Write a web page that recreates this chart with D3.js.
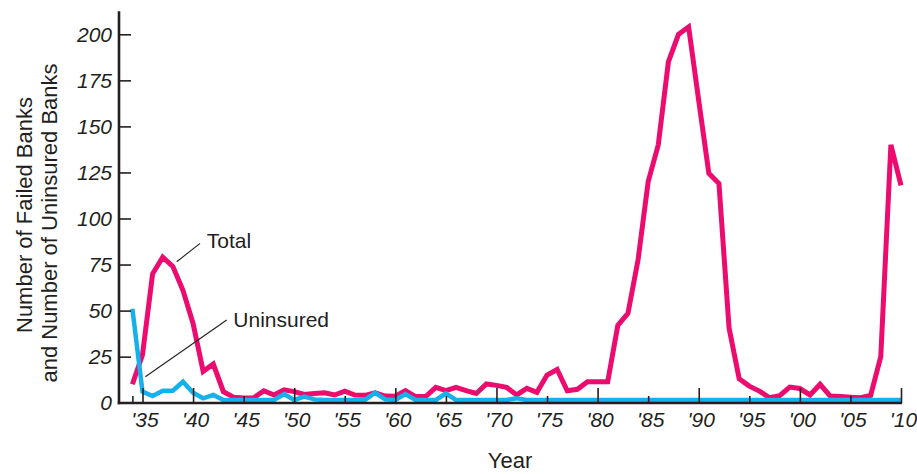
<!DOCTYPE html>
<html>
<head>
<meta charset="utf-8">
<script src="https://cdn.jsdelivr.net/npm/d3@7"></script>
<style>
  html, body { margin: 0; padding: 0; background: #ffffff; }
  svg { display: block; }
  text { font-family: "Liberation Sans", Arial, sans-serif; fill: #231f20; }
</style>
</head>
<body>
<svg id="chart" width="917" height="474"></svg>
<script>
// ---------- DATA ----------
const years = d3.range(1934, 2011);
const totalFailed = [
  10, 26, 70, 79, 74, 61, 43, 17, 21, 6,        // 1934-1943
  3, 2.5, 2.7, 6.5, 4.2, 7, 6, 4.5, 5, 5.4,     // 1944-1953
  4.2, 6.3, 4.2, 4, 5.4, 3.6, 3.5, 6.5, 3.3, 3.3, // 1954-1963
  8.3, 6.5, 8.3, 6.5, 5, 10.2, 9.4, 8.3, 4.2, 7.8, // 1964-1973
  5.6, 15, 18, 6.5, 7.3, 11.4, 11.4, 11.4, 42, 48.5, // 1974-1983
  77.5, 120, 140, 185, 200, 204, 164, 124.5, 119, 40.5, // 1984-1993
  13, 9, 6.3, 2.7, 3.8, 8.5, 7.7, 4.2, 10, 3.6, // 1994-2003
  3.3, 3, 2.7, 4, 25, 140, 118                  // 2004-2010
];
const uninsured = [
  51, 6, 3.6, 6.5, 6.5, 11.4, 5.4, 2.4, 4.2, 1.5, // 1934-1943
  1.5, 1.5, 1.5, 1.5, 1.5, 4.7, 1.5, 3.3, 1.8, 1.5, // 1944-1953
  1.5, 1.5, 1.5, 1.5, 5.4, 1.8, 1.5, 4.7, 1.5, 1.5, // 1954-1963
  1.5, 5, 1.5, 1.5, 1.5, 1.5, 1.5, 1.5, 2.4, 1.5,   // 1964-1973
  1.5, 1.5, 1.5, 1.5, 1.5, 1.5, 1.5, 1.5, 1.5, 1.5, // 1974-1983
  1.5, 1.5, 1.5, 1.5, 1.5, 1.5, 1.5, 1.5, 1.5, 1.5, // 1984-1993
  1.5, 1.5, 1.5, 1.5, 1.5, 1.5, 1.5, 1.5, 1.5, 1.5, // 1994-2003
  1.5, 1.5, 1.5, 1.5, 1.5, 1.5, 1.5                 // 2004-2010
];
const yTicks = [0, 25, 50, 75, 100, 125, 150, 175, 200];
const xLabelYears = [1935, 1940, 1945, 1950, 1955, 1960, 1965, 1970, 1975, 1980, 1985, 1990, 1995, 2000, 2005, 2010];
const xLabels = ["'35", "'40", "'45", "'50", "'55", "'60", "'65", "'70", "'75", "'80", "'85", "'90", "'95", "'00", "'05", "'10"];
const majorTickYears = [1935, 1940, 1950, 1960, 1970, 1980, 1990, 2000, 2010];
const minorTickYears = [1934, 1945, 1955, 1965, 1975, 1985, 1995, 2005];
const yTitleLines = ["Number of Failed Banks", "and Number of Uninsured Banks"];
const xTitle = "Year";
const seriesNames = ["Total", "Uninsured"];

// ---------- LAYOUT ----------
const ink = "#231f20";
const pink = "#ec0b6e";
const blue = "#14b1ea";
const axisX = 119;
const svg = d3.select("#chart");

const x = d3.scaleLinear().domain([1935, 2010]).range([142.5, 901]);
const y = d3.scaleLinear().domain([0, 200]).range([402.7, 34.3]);
const yTop = 212.5;

// ---------- LINES ----------
const line = d3.line().x((d, i) => x(years[i])).y(d => y(d));

svg.append("path").datum(totalFailed)
  .attr("d", line).attr("fill", "none")
  .attr("stroke", pink).attr("stroke-width", 5).attr("stroke-linejoin", "miter").attr("stroke-miterlimit", 3);

svg.append("path").datum(uninsured)
  .attr("d", line).attr("fill", "none")
  .attr("stroke", blue).attr("stroke-width", 4.5).attr("stroke-linejoin", "miter").attr("stroke-miterlimit", 3);

// ---------- AXES ----------
const xBase = y(0) + 0.3;
// minor ticks
svg.append("g").attr("transform", `translate(0,${xBase})`)
  .call(d3.axisBottom(x).tickValues(minorTickYears).tickSizeInner(-7).tickSizeOuter(0).tickFormat(""))
  .call(g => g.select(".domain").remove())
  .call(g => g.selectAll("line").attr("stroke", ink).attr("stroke-width", 1.6));
// major ticks
svg.append("g").attr("transform", `translate(0,${xBase})`)
  .call(d3.axisBottom(x).tickValues(majorTickYears).tickSizeInner(-15).tickSizeOuter(0).tickFormat(""))
  .call(g => g.select(".domain").remove())
  .call(g => g.selectAll("line").attr("stroke", ink).attr("stroke-width", 1.6));
// labels
svg.append("g").attr("transform", `translate(2,${xBase})`)
  .call(d3.axisBottom(x).tickValues(xLabelYears).tickSize(0).tickPadding(9)
        .tickFormat((d) => xLabels[xLabelYears.indexOf(d)]))
  .call(g => g.select(".domain").remove())
  .call(g => g.selectAll("text").attr("font-size", 21).attr("font-style", "italic")
        .attr("fill", ink).attr("font-family", "'Liberation Sans', Arial, sans-serif"));

// y axis
svg.append("g").attr("transform", `translate(${axisX},0)`)
  .call(d3.axisLeft(y).tickValues(yTicks).tickSizeInner(-12).tickSizeOuter(0).tickPadding(7))
  .call(g => g.select(".domain").remove())
  .call(g => g.selectAll("line").attr("stroke", ink).attr("stroke-width", 1.6))
  .call(g => g.selectAll("text").attr("font-size", 21).attr("font-style", "italic")
        .attr("fill", ink).attr("font-family", "'Liberation Sans', Arial, sans-serif"));

// axis lines
svg.append("line").attr("x1", axisX).attr("x2", axisX)
  .attr("y1", y(yTop)).attr("y2", xBase + 1.2)
  .attr("stroke", ink).attr("stroke-width", 2.6);
svg.append("line").attr("x1", axisX - 1.3).attr("x2", x(2010) + 1)
  .attr("y1", xBase).attr("y2", xBase)
  .attr("stroke", ink).attr("stroke-width", 2.6);

// ---------- TITLES ----------
svg.append("text").attr("transform", "translate(31.5,215) rotate(-90)")
  .attr("text-anchor", "middle").attr("font-size", 22).text(yTitleLines[0]);
svg.append("text").attr("transform", "translate(56.5,223) rotate(-90)")
  .attr("text-anchor", "middle").attr("font-size", 22).text(yTitleLines[1]);
svg.append("text").attr("x", 510).attr("y", 468)
  .attr("text-anchor", "middle").attr("font-size", 22).text(xTitle);

// ---------- ANNOTATIONS ----------
svg.append("line")
  .attr("x1", x(1938.38)).attr("y1", y(76.5))
  .attr("x2", x(1940.69)).attr("y2", y(86.5))
  .attr("stroke", ink).attr("stroke-width", 1.1);
svg.append("text").attr("x", x(1941.35)).attr("y", y(84))
  .attr("font-size", 21).text(seriesNames[0]);

svg.append("line")
  .attr("x1", x(1935.28)).attr("y1", y(14.1))
  .attr("x2", x(1943.33)).attr("y2", y(44.9))
  .attr("stroke", ink).attr("stroke-width", 1.1);
svg.append("text").attr("x", x(1943.98)).attr("y", y(41.3))
  .attr("font-size", 21).text(seriesNames[1]);
</script>
</body>
</html>
